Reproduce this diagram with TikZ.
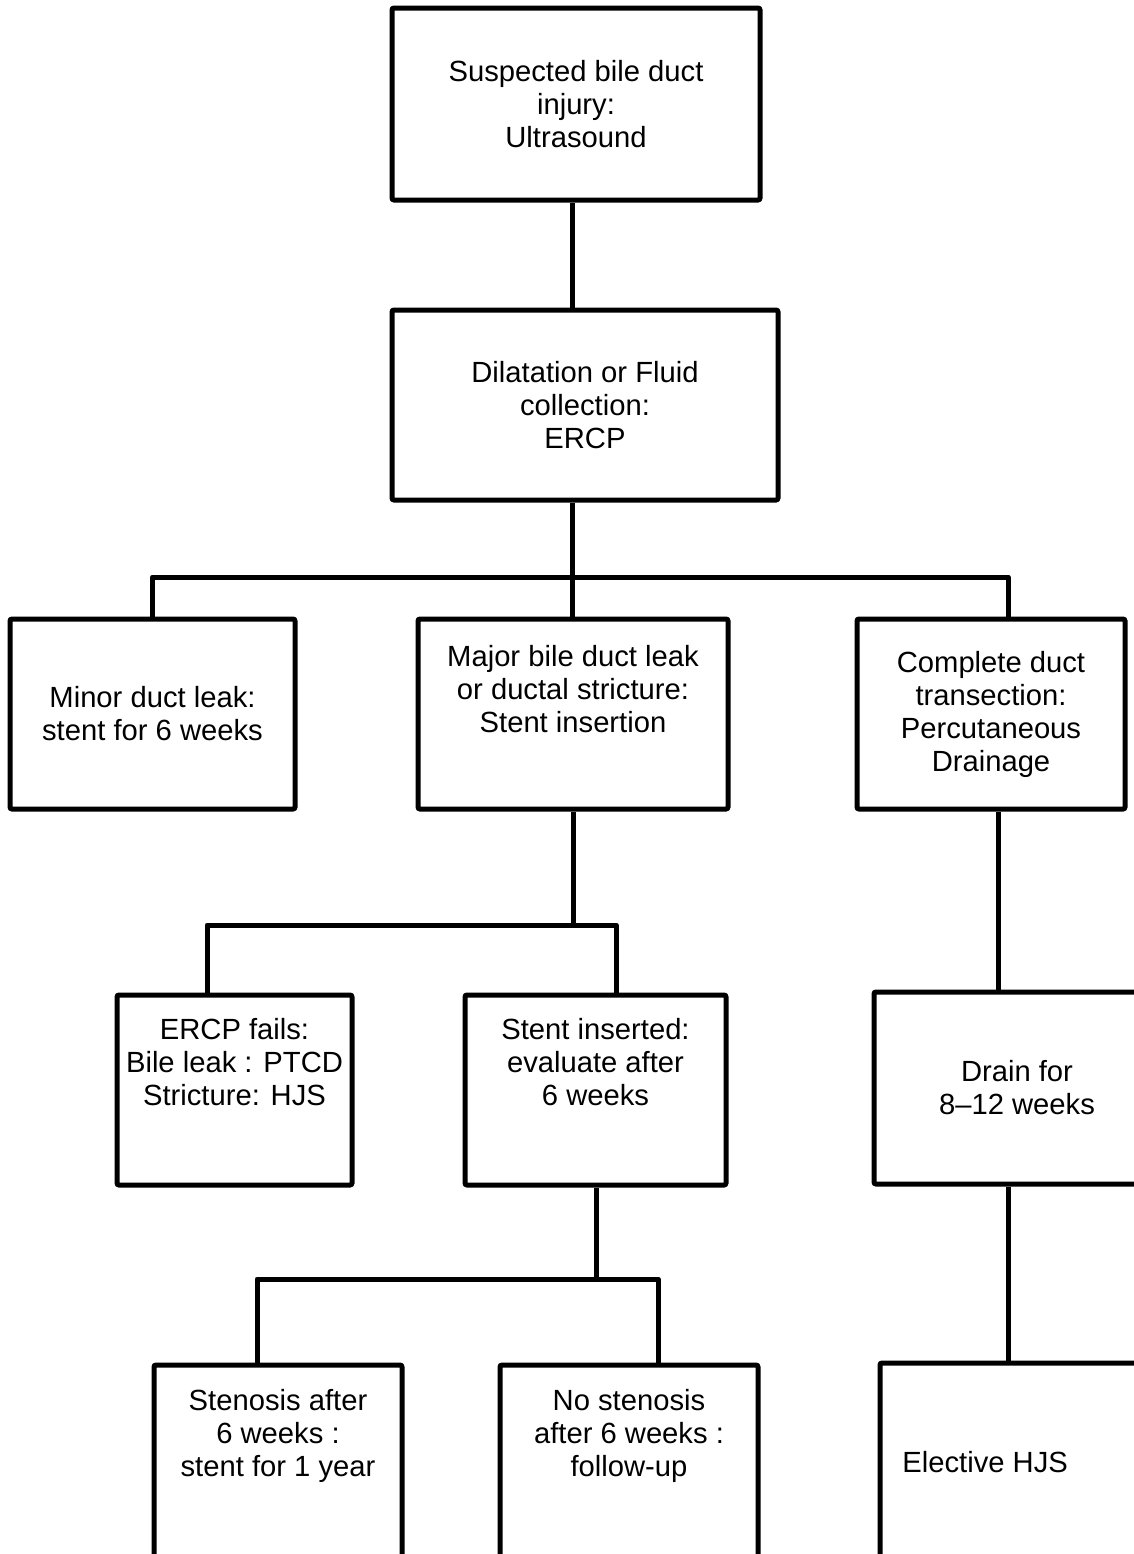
\documentclass[tikz,border=0pt]{standalone}
\usepackage{fontspec}
\setmainfont{Liberation Sans}
\usetikzlibrary{positioning}
\tikzset{
  stage/.style={draw,line width=2.5pt,rounded corners=1pt,minimum height=95pt,
    align=center,inner sep=0pt,font=\fontsize{14.6}{16.5}\selectfont},
  txt/.style={align=center,inner sep=0pt,font=\fontsize{14.6}{16.5}\selectfont},
  link/.style={line width=2.5pt,line join=round}
}
\begin{document}
\begin{tikzpicture}[x=0.5pt,y=-0.5pt]
\useasboundingbox (0,0) rectangle (1134,1554);
\clip (0,0) rectangle (1134,1554);
% boxes
\node[stage,minimum width=184pt,minimum height=96pt] (inj) at (576,104)
  {Suspected bile duct\\injury:\\Ultrasound};
\node[stage,minimum width=193pt] (ercp) at (585,405)
  {Dilatation or Fluid\\collection:\\ERCP};
\node[stage,minimum width=142.5pt] (minor) at (152.5,714)
  {Minor duct leak:\\stent for 6 weeks};
\node[stage,minimum width=155pt] (major) at (573,714) {};
\node[txt] at (573,689) {Major bile duct leak\\or ductal stricture:\\Stent insertion};
\node[stage,minimum width=134pt] (compl) at (991,714)
  {Complete duct\\transection:\\Percutaneous\\Drainage};
\node[stage,minimum width=117.5pt] (fails) at (234.5,1090) {};
\node[txt] at (234.5,1062) {ERCP fails:\\Bile leak : PTCD\\Stricture: HJS};
\node[stage,minimum width=130.5pt] (inserted) at (595.5,1090) {};
\node[txt] at (595.5,1062) {Stent inserted:\\evaluate after\\6 weeks};
\node[stage,minimum width=143pt,minimum height=96pt] (drain) at (1017,1088)
  {Drain for\\8--12 weeks};
\node[stage,minimum width=124pt,minimum height=117.5pt] (steno) at (278,1482.5) {};
\node[txt] at (278,1436) {Stenosis after\\6 weeks :\\stent for 1 year};
\node[stage,minimum width=129pt,minimum height=117.5pt] (nosteno) at (629,1482.5) {};
\node[txt] at (629,1436) {No stenosis\\after 6 weeks :\\follow-up};
\node[stage,minimum width=140pt,minimum height=118.5pt] (elect) at (1020,1481.5) {};
\node[txt,anchor=west] at (902,1462) {Elective HJS};
% stems and bars
\coordinate (s1) at (572,0);
\coordinate (b1) at (572,577);
\coordinate (r1) at (1008,0);
\coordinate (b2) at (573,925);
\coordinate (l2) at (207,0);
\coordinate (r2) at (616,0);
\coordinate (s3) at (998,0);
\coordinate (b3) at (596,1279);
\coordinate (l3) at (257,0);
\coordinate (r3) at (658,0);
\coordinate (s4) at (1008,0);
\draw[link] (inj.south -| s1) -- (ercp.north -| s1);
\draw[link] (ercp.south -| b1) -- (major.north -| b1);
\draw[link] (minor.north) |- (b1) -| (compl.north -| r1);
\draw[link] (major.south) -- (b2);
\draw[link] (fails.north -| l2) |- (b2) -| (inserted.north -| r2);
\draw[link] (compl.south -| s3) -- (drain.north -| s3);
\draw[link] (inserted.south -| b3) -- (b3);
\draw[link] (steno.north -| l3) |- (b3) -| (nosteno.north -| r3);
\draw[link] (drain.south -| s4) -- (elect.north -| s4);
\end{tikzpicture}
\end{document}
